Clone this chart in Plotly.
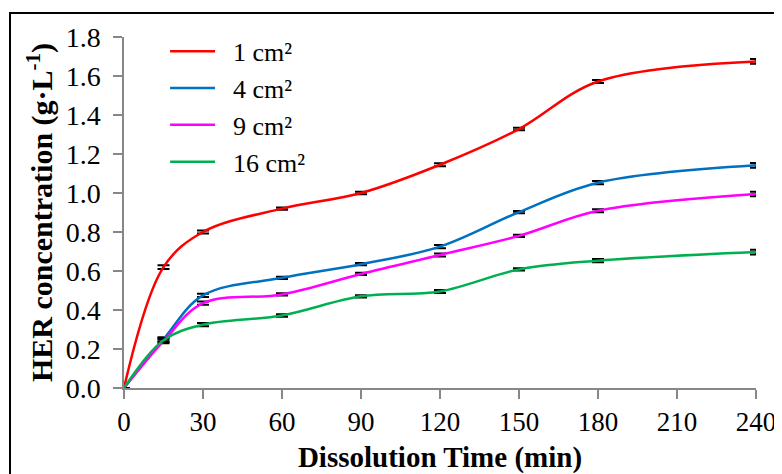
import plotly.graph_objects as go

time_min = [0, 15, 30, 60, 90, 120, 150, 180, 240]
series_names = ["1 cm²", "4 cm²", "9 cm²", "16 cm²"]
her_1cm = [0.0, 0.62, 0.80, 0.92, 1.00, 1.145, 1.328, 1.572, 1.675]
her_4cm = [0.0, 0.25, 0.475, 0.565, 0.635, 0.725, 0.902, 1.053, 1.142]
her_9cm = [0.0, 0.24, 0.435, 0.48, 0.585, 0.682, 0.78, 0.909, 0.995]
her_16cm = [0.0, 0.245, 0.325, 0.372, 0.47, 0.495, 0.608, 0.653, 0.697]
err_all = [0.0, 0.01, 0.008, 0.006, 0.006, 0.008, 0.006, 0.008, 0.012]
colors = ["#FF0000", "#0070C0", "#FF00FF", "#00B050"]
x_ticks = [0, 30, 60, 90, 120, 150, 180, 210, 240]
y_ticks = [0.0, 0.2, 0.4, 0.6, 0.8, 1.0, 1.2, 1.4, 1.6, 1.8]

FONT = "Liberation Serif"
GRAY = "#878787"
NB = "\u00a0\u00a0"

W, H = 774, 466
L, T, R, B = 116, 29, 26, 86
PW, PH = W - L - R, H - T - B

fig = go.Figure()
for name, vals, col in zip(series_names, [her_1cm, her_4cm, her_9cm, her_16cm], colors):
    fig.add_trace(go.Scatter(
        x=time_min, y=vals, name=NB + name, mode="lines",
        line=dict(color=col, width=2.5, shape="spline", smoothing=1.0),
        error_y=dict(type="data", array=err_all, visible=True,
                     color="#000000", thickness=2, width=6),
    ))

fig.update_layout(
    width=W, height=H,
    margin=dict(l=L, r=R, t=T, b=B, autoexpand=False),
    paper_bgcolor="white", plot_bgcolor="white",
    font=dict(family=FONT, color="black", size=27),
    showlegend=True,
    legend=dict(x=0.065, y=1.026, xanchor="left", yanchor="top",
                bgcolor="rgba(0,0,0,0)", font=dict(size=26, family=FONT, color="black"),
                itemwidth=45, tracegroupgap=0),
    xaxis=dict(range=[0, 240], tickvals=x_ticks, ticktext=[str(v) for v in x_ticks],
               automargin=False,
               showgrid=False, zeroline=False, showline=True, linecolor=GRAY, linewidth=1.5,
               ticks="outside", ticklen=9, tickwidth=1.5, tickcolor=GRAY,
               tickfont=dict(size=27, family=FONT, color="black"),
               title=dict(text="<b>Dissolution Time (min)</b>", font=dict(size=29, family=FONT, color="black"), standoff=12)),
    yaxis=dict(range=[0, 1.8], tickvals=y_ticks, tickformat=".1f",
               automargin=False,
               showgrid=False, zeroline=False, showline=True, linecolor=GRAY, linewidth=1.5,
               ticks="outside", ticklen=9, tickwidth=1.5, tickcolor=GRAY,
               ticklabelstandoff=7,
               tickfont=dict(size=28, family=FONT, color="black"),
               title=dict(text="<b>HER concentration (g·L<sup>-1</sup>)</b>", font=dict(size=30, family=FONT, color="black"), standoff=4)),
)

# outer frame (open to the right and bottom as in the reference crop)
fig.add_shape(type="rect", xref="paper", yref="paper",
              x0=(2 - L) / PW, x1=(W + 20 - L) / PW,
              y0=-(B + 20) / PH, y1=(PH + T - 5) / PH,
              line=dict(color="black", width=2), fillcolor="rgba(0,0,0,0)", layer="below")

fig.write_html("out.html")
